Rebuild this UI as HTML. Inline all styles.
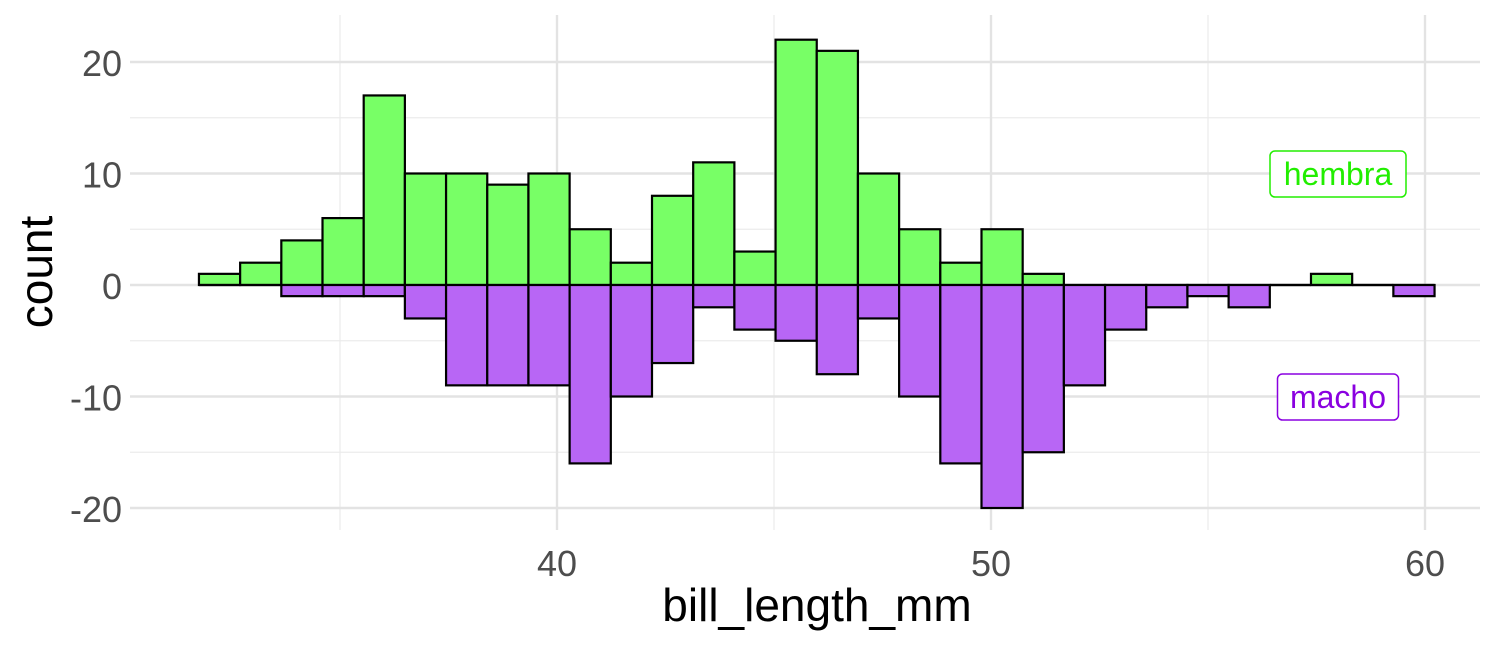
<!DOCTYPE html>
<html><head><meta charset="utf-8">
<style>
html,body{margin:0;padding:0;background:#fff;}
svg{display:block;font-family:"Liberation Sans",sans-serif;}
</style></head>
<body>
<svg id="chart" width="1512" height="648" viewBox="0 0 1512 648">
<g id="grid"></g>
<g id="bars"></g>
<g id="axes"></g>
</svg>
<script>
const binStart = 31.75;
const binWidth = 0.949;
const femaleCounts = [1,2,4,6,17,10,10,9,10,5,2,8,11,3,22,21,10,5,2,5,1,0,0,0,0,0,0,1,0,0];
const maleCounts = [0,0,-1,-1,-1,-3,-9,-9,-9,-16,-10,-7,-2,-4,-5,-8,-3,-10,-16,-20,-15,-9,-4,-2,-1,-2,0,0,0,-1];
const xTicks = [40,50,60];
const xMinor = [35,45,55];
const yTicks = [20,10,0,-10,-20];
const yMinor = [15,5,-5,-15];

const NS = "http://www.w3.org/2000/svg";
const X = v => 557 + (v - 40) * 43.4;
const Y = v => 285 - v * 11.15;
const panel = {l:130, r:1480, t:15, b:530};
function mk(tag, attrs, parent){
  const e = document.createElementNS(NS, tag);
  for (const k in attrs) e.setAttribute(k, attrs[k]);
  parent.appendChild(e); return e;
}
const grid = document.getElementById('grid');
const bars = document.getElementById('bars');
const axes = document.getElementById('axes');

yMinor.forEach(v=>{
  const l = mk('line',{x1:panel.l,x2:panel.r,y1:Y(v),y2:Y(v),stroke:'#ebebeb','stroke-width':1.2},grid);
  
  
});
xMinor.forEach(v=>{
  const l = mk('line',{x1:X(v),x2:X(v),y1:panel.t,y2:panel.b,stroke:'#ebebeb','stroke-width':1.2},grid);
  
  
});
yTicks.forEach(v=>{
  const l = mk('line',{x1:panel.l,x2:panel.r,y1:Y(v),y2:Y(v),stroke:'#e3e3e3','stroke-width':2.4},grid);
  
  
  const t = mk('text',{x:122,y:Y(v)+14,'text-anchor':'end','font-size':36,fill:'#4d4d4d'},axes);
  t.textContent = v;
  
  
});
xTicks.forEach(v=>{
  const l = mk('line',{x1:X(v),x2:X(v),y1:panel.t,y2:panel.b,stroke:'#e3e3e3','stroke-width':2.4},grid);
  
  
  const t = mk('text',{x:X(v),y:576,'text-anchor':'middle','font-size':36,fill:'#4d4d4d'},axes);
  t.textContent = v;
  
  
});

function drawSeries(arr, fill, name){
  arr.forEach((c,i)=>{
    const x0 = X(binStart + i*binWidth), x1 = X(binStart + (i+1)*binWidth);
    if (c === 0) {
      const l = mk('line',{x1:x0,x2:x1,y1:Y(0),y2:Y(0),stroke:'#000','stroke-width':2.2},bars);
      
      
      return;
    }
    const y0 = Y(Math.max(c,0)), y1 = Y(Math.min(c,0));
    const r = mk('rect',{x:x0,y:y0,width:x1-x0,height:y1-y0,fill:fill,stroke:'#000','stroke-width':2.2},bars);
    
    
  });
}
drawSeries(femaleCounts,'#78ff66','bar-hembra');
drawSeries(maleCounts,'#b866f5','bar-macho');

function label(txt, cx, cy, w, color, name){
  const g = mk('g',{},axes);
  
  
  mk('rect',{x:cx-w/2,y:cy-23,width:w,height:46,rx:5,fill:'#fff',stroke:color,'stroke-width':1.5},g);
  const t = mk('text',{x:cx,y:cy+11,'text-anchor':'middle','font-size':32,fill:color},g);
  t.textContent = txt;
}
label('hembra',1338,174,136,'#22ee00','label-hembra');
label('macho',1338,397,121,'#8a00e0','label-macho');

const xt = mk('text',{x:817,y:621,'text-anchor':'middle','font-size':46,fill:'#000'},axes);
xt.textContent = 'bill_length_mm';


const yt = mk('text',{x:0,y:0,'text-anchor':'middle','font-size':46,fill:'#000',transform:'translate(52,272) rotate(-90)'},axes);
yt.textContent = 'count';


</script>
</body></html>
